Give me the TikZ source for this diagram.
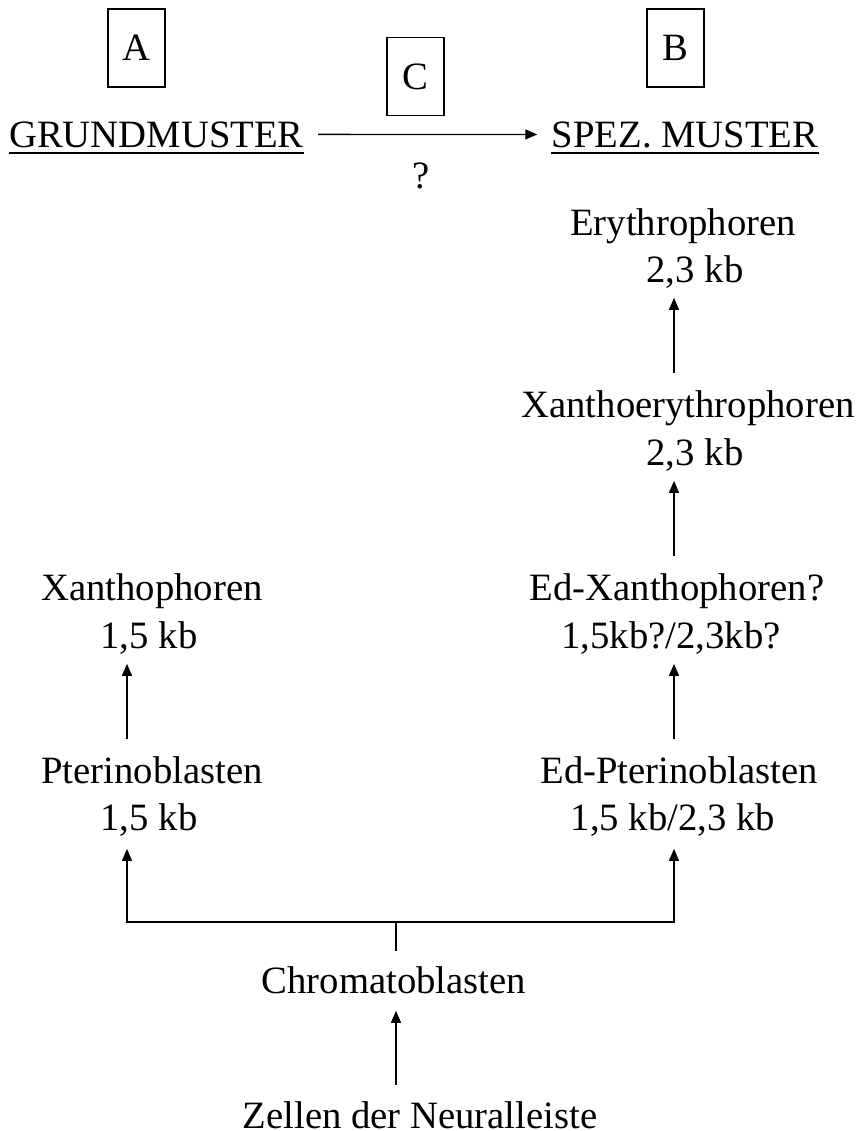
\documentclass[tikz,border=0pt]{standalone}
\usepackage{fontspec}
\setmainfont{Liberation Serif}
\usetikzlibrary{arrows.meta,positioning,calc}

\begin{document}
\begin{tikzpicture}[x=0.5pt, y=-0.5pt,
  lbl/.style={anchor=base, inner sep=0pt, font=\fontsize{19.35}{23}\selectfont},
  letterbox/.style={draw, line width=0.75pt, inner sep=0pt, minimum width=28.5pt, minimum height=39pt, font=\fontsize{19.35}{23}\selectfont},
  arr/.style={-{Triangle[length=6pt,width=5pt]}, line width=0.65pt},
  ln/.style={line width=0.65pt},
  uline/.style={line width=1.25pt},
  upstep/.style={arr, shorten <=8.3pt, shorten >=4.75pt}
]
  \useasboundingbox (0,0) rectangle (858,1131);

  % columns of the vertical arrows
  \coordinate (colL) at (127,0);
  \coordinate (colM) at (396,0);
  \coordinate (colR) at (674,0);

  % header
  \node[letterbox] (boxa) at (136.5,48) {A};
  \node[letterbox] (boxc) at (415.5,76.5) {C};
  \node[letterbox] (boxb) at (675.5,48) {B};
  \node[lbl] (grund) at (156.5,147) {GRUNDMUSTER};
  \node[lbl] (spez) at (685,147) {SPEZ. MUSTER};
  \node[lbl] (quest) at (421,188) {?};
  \draw[uline] ([yshift=-3pt]grund.base west) -- ([yshift=-3pt]grund.base east);
  \draw[uline] ([yshift=-3pt]spez.base west) -- ([yshift=-3pt]spez.base east);
  \draw[arr, shorten <=7pt, shorten >=7pt] (grund.east) -- (spez.west);

  % right branch
  \node[lbl] (ery) at (683,235) {Erythrophoren};
  \node[lbl] (erykb) at (695,282) {2,3 kb};
  \node[lbl] (xery) at (688,417) {Xanthoerythrophoren};
  \node[lbl] (xerykb) at (695,465) {2,3 kb};
  \node[lbl] (edxan) at (677,600) {Ed-Xanthophoren?};
  \node[lbl] (edxankb) at (671,648) {1,5kb?/2,3kb?};
  \node[lbl] (edpter) at (679,783) {Ed-Pterinoblasten};
  \node[lbl] (edpterkb) at (673,830) {1,5 kb/2,3 kb};

  % left branch
  \node[lbl] (xan) at (152,600) {Xanthophoren};
  \node[lbl] (xankb) at (149,648) {1,5 kb};
  \node[lbl] (pter) at (152,783) {Pterinoblasten};
  \node[lbl] (pterkb) at (149,830) {1,5 kb};

  % origin
  \node[lbl] (chrom) at (394,993) {Chromatoblasten};
  \node[lbl] (zellen) at (420,1128) {Zellen der Neuralleiste};
  \coordinate (fork) at (396,922);

  \draw[upstep] (colR |- xery.north) -- (colR |- erykb.south);
  \draw[upstep] (colR |- edxan.north) -- (colR |- xerykb.south);
  \draw[upstep] (colR |- edpter.north) -- (colR |- edxankb.south);
  \draw[upstep] (colL |- pter.north) -- (colL |- xankb.south);

  \draw[ln, shorten <=7.3pt] (colM |- chrom.north) -- (fork);
  \draw[arr, shorten >=6.25pt] (fork) -| (colL |- pterkb.south);
  \draw[arr, shorten >=6.25pt] (fork) -| (colR |- edpterkb.south);
  \draw[arr, shorten <=7.8pt, shorten >=8.5pt] (colM |- zellen.north) -- (colM |- chrom.south);
\end{tikzpicture}
\end{document}
